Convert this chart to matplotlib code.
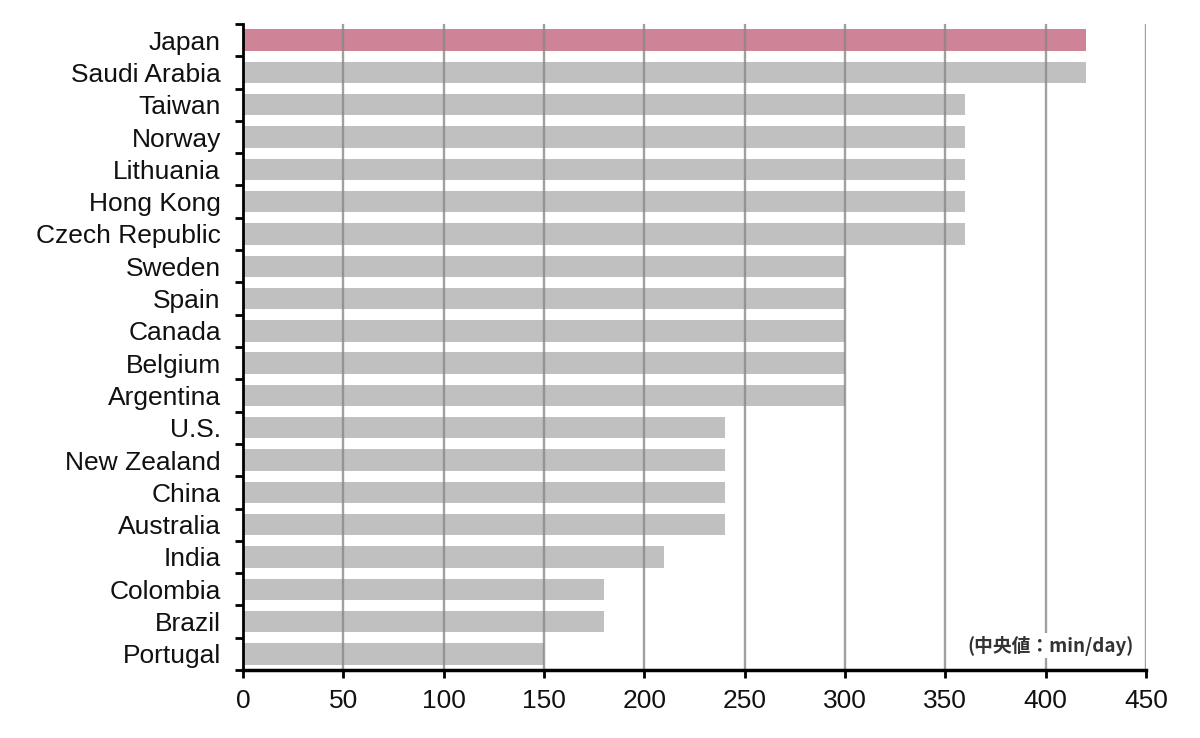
import matplotlib.pyplot as plt
from matplotlib.ticker import FixedLocator, NullFormatter

countries = ['Japan', 'Saudi Arabia', 'Taiwan', 'Norway', 'Lithuania', 'Hong Kong',
             'Czech Republic', 'Sweden', 'Spain', 'Canada', 'Belgium', 'Argentina',
             'U.S.', 'New Zealand', 'China', 'Australia', 'India', 'Colombia',
             'Brazil', 'Portugal']
minutes = [420, 420, 360, 360, 360, 360, 360, 300, 300, 300, 300, 300,
           240, 240, 240, 240, 210, 180, 180, 150]
highlight = 'Japan'
xticks = [0, 50, 100, 150, 200, 250, 300, 350, 400, 450]

plt.rcParams['font.family'] = ['Liberation Sans', 'DejaVu Sans']

fig = plt.figure(figsize=(12, 7.38), dpi=100)
ax = fig.add_axes([0.2025, 0.0921, 0.7525, 0.8754])

pos = list(range(len(countries)))
colors = ['#cf8396' if c == highlight else '#c0c0c0' for c in countries]
ax.barh(pos, minutes, height=0.66, color=colors, zorder=1)

# vertical grid on top of bars
for x in xticks[1:]:
    ax.axvline(x, color='#888888', lw=1.7, alpha=0.8, zorder=2)

ax.set_xlim(0, 450)
ax.set_ylim(len(countries) - 0.5, -0.5)
ax.set_xticks(xticks)
ax.set_yticks(pos)
ax.set_yticklabels(countries)
ax.yaxis.set_minor_locator(FixedLocator([p - 0.5 for p in pos] + [len(countries) - 0.5]))
ax.yaxis.set_minor_formatter(NullFormatter())

ax.tick_params(axis='y', which='major', length=0, pad=16, labelsize=19, labelcolor='#111111')
ax.tick_params(axis='y', which='minor', length=6, width=2, direction='out', color='black')
ax.tick_params(axis='x', length=6, width=2, direction='out', pad=8, labelsize=19,
               labelcolor='#111111')

for s in ['top', 'right']:
    ax.spines[s].set_visible(False)
ax.spines['left'].set_linewidth(2)
ax.spines['bottom'].set_linewidth(2.5)
ax.spines['left'].set_zorder(3)
ax.spines['bottom'].set_zorder(3)

ax.text(0.986, 0.038, '(中央値：min/day)', transform=ax.transAxes, ha='right', va='center',
        fontsize=13.5, fontweight='bold', color='#333333',
        family=['Noto Sans CJK JP', 'DejaVu Sans'],
        bbox=dict(facecolor='white', edgecolor='none', pad=2), zorder=4)

fig.savefig('out.png', dpi=100)
